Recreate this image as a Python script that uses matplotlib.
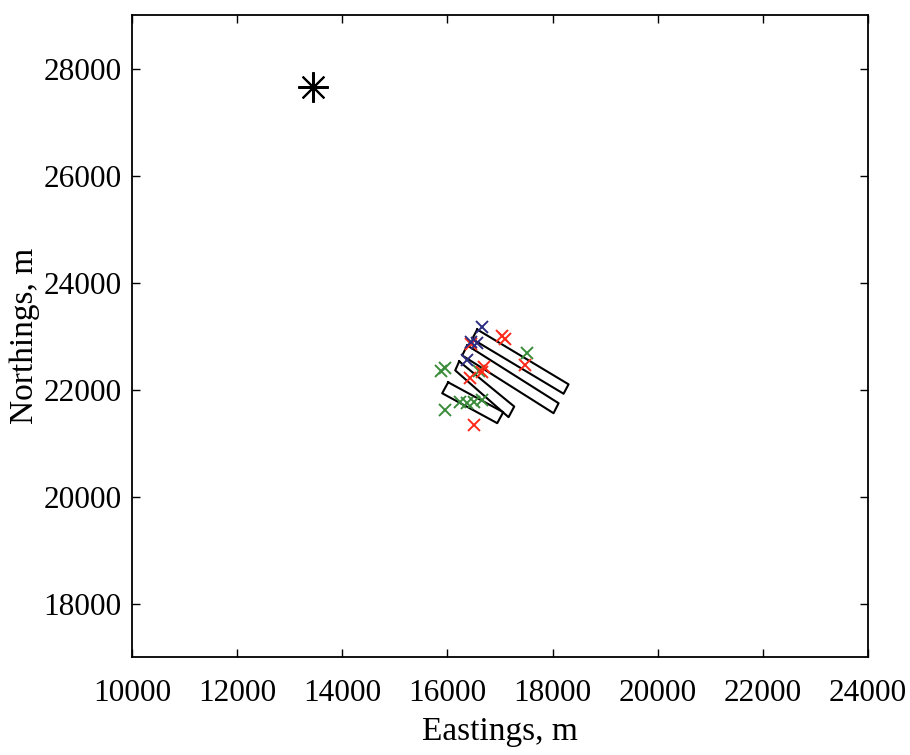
import matplotlib
matplotlib.use("Agg")
import matplotlib.pyplot as plt

plt.rcParams['font.family'] = ['Liberation Serif', 'DejaVu Serif']

# source location (asterisk)
src_x = [13440]
src_y = [27646]

# swath outlines, corner coordinates (m)
rect_x = [
    [16566, 18306, 18211, 16471],
    [16376, 18116, 18020, 16280],
    [16223, 17271, 17163, 16147],
    [16013, 17062, 16947, 15899],
]
rect_y = [
    [23122, 22097, 21921, 22945],
    [22824, 21744, 21557, 22637],
    [22526, 21682, 21483, 22358],
    [22135, 21576, 21371, 21930],
]

# receiver points by group
navy_x = [16656, 16560, 16452, 16370]
navy_y = [23172, 22861, 22889, 22550]
red_x = [17029, 17100, 16442, 16686, 16656, 16433, 17481, 16496]
red_y = [22997, 22945, 22852, 22427, 22334, 22209, 22457, 21340]
green_x = [15956, 15880, 16591, 17513, 16242, 16370, 16496, 16656, 15956]
green_y = [22395, 22349, 22349, 22675, 21775, 21744, 21775, 21805, 21619]

xticks = [10000, 12000, 14000, 16000, 18000, 20000, 22000, 24000]
yticks = [18000, 20000, 22000, 24000, 26000, 28000]

fig = plt.figure(figsize=(9.1, 7.55), dpi=100)
ax = fig.add_axes([0.1456, 0.1298, 0.8077, 0.8503])

for rx, ry in zip(rect_x, rect_y):
    ax.plot(rx + rx[:1], ry + ry[:1], color='black', lw=1.5)

ms = 8
ax.plot(green_x, green_y, 'x', color='#3a8c3a', ms=ms, mew=1.4)
ax.plot(red_x, red_y, 'x', color='#ff2a1a', ms=ms, mew=1.4)
ax.plot(navy_x, navy_y, 'x', color='#2c2c80', ms=ms, mew=1.4)
ax.plot(src_x, src_y, marker=(8, 2, 0), color='black', ms=22, mew=1.5, ls='none')

ax.set_xlim(10000, 24000)
ax.set_ylim(17000, 29000)
ax.set_xticks(xticks)
ax.set_yticks(yticks)
ax.tick_params(direction='in', length=6, width=1, top=True, right=True, labelsize=22.5)
ax.tick_params(axis='x', pad=16)
ax.tick_params(axis='y', pad=8)
for s in ax.spines.values():
    s.set_linewidth(1.3)

ax.set_xlabel('Eastings, m', fontsize=24, labelpad=6)
ax.set_ylabel('Northings, m', fontsize=24, labelpad=2)

fig.savefig('out.png', dpi=100)
